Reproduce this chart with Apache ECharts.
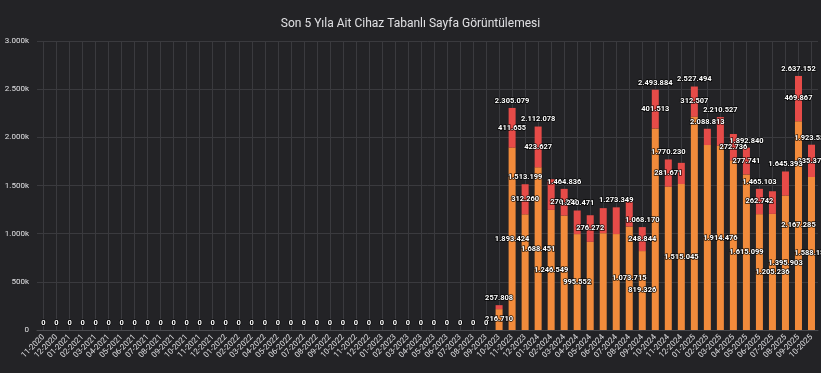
<!DOCTYPE html>
<html>
<head>
<meta charset="utf-8">
<script src="https://cdn.jsdelivr.net/npm/echarts@6/dist/echarts.min.js"></script>
<style>
  html, body { margin: 0; padding: 0; background: #232326; }
  #chart { width: 821px; height: 373px; }
</style>
</head>
<body>
<div id="chart"></div>
<script>
  var months = [
    '11-2020', '12-2020',
    '01-2021', '02-2021', '03-2021', '04-2021', '05-2021', '06-2021',
    '07-2021', '08-2021', '09-2021', '10-2021', '11-2021', '12-2021',
    '01-2022', '02-2022', '03-2022', '04-2022', '05-2022', '06-2022',
    '07-2022', '08-2022', '09-2022', '10-2022', '11-2022', '12-2022',
    '01-2023', '02-2023', '03-2023', '04-2023', '05-2023', '06-2023',
    '07-2023', '08-2023', '09-2023', '10-2023', '11-2023', '12-2023',
    '01-2024', '02-2024', '03-2024', '04-2024', '05-2024', '06-2024',
    '07-2024', '08-2024', '09-2024', '10-2024', '11-2024', '12-2024',
    '01-2025', '02-2025', '03-2025', '04-2025', '05-2025', '06-2025',
    '07-2025', '08-2025', '09-2025', '10-2025'
  ];

  // alt (turuncu) kisim
  var bottomValues = [
    0, 0, 0, 0, 0, 0, 0, 0, 0, 0, 0, 0, 0, 0, 0, 0, 0, 0, 0, 0,
    0, 0, 0, 0, 0, 0, 0, 0, 0, 0, 0, 0, 0, 0, 0,
    216710, 1893424, 1200939, 1688451, 1246549, 1187984, 995552, 915000,
    1005000, 996000, 1073715, 819326, 2092371, 1488559, 1515045, 2214987,
    1920000, 1914476, 1762000, 1615099, 1202361, 1205236, 1395903, 2167285,
    1588157
  ];

  // ust (kirmizi) kisim
  var topValues = [
    0, 0, 0, 0, 0, 0, 0, 0, 0, 0, 0, 0, 0, 0, 0, 0, 0, 0, 0, 0,
    0, 0, 0, 0, 0, 0, 0, 0, 0, 0, 0, 0, 0, 0, 0,
    41098, 411655, 312260, 423627, 318000, 276852, 244919, 276272,
    260000, 277349, 258000, 248844, 401513, 281671, 220000, 312507,
    168813, 296051, 272736, 277741, 262742, 235000, 249490, 469867,
    335374
  ];

  // ust uste binip gizlenen etiketler
  var hideTotal = ['02-2024', '05-2024', '06-2024', '08-2024', '12-2024', '04-2025', '07-2025'];
  var hideTop = ['10-2023', '02-2024', '04-2024', '06-2024', '07-2024', '08-2024', '12-2024',
    '02-2025', '03-2025', '07-2025', '08-2025'];
  var hideBottom = ['12-2023', '03-2024', '05-2024', '06-2024', '07-2024', '10-2024', '11-2024',
    '01-2025', '02-2025', '04-2025', '06-2025'];

  var totals = bottomValues.map(function (v, i) { return v + topValues[i]; });
  var totalHolder = totals.map(function () { return 0; });

  function dotted(n) {
    return String(Math.round(n)).replace(/\B(?=(\d{3})+(?!\d))/g, '.');
  }
  function axisFmt(v) {
    if (v === 0) return '0';
    return dotted(v / 1000) + 'k';
  }
  function segLabel(hidden) {
    return function (p) {
      if (!p.value || hidden.indexOf(months[p.dataIndex]) > -1) return '';
      return dotted(p.value);
    };
  }

  var fontFam = "Roboto, 'Noto Sans', sans-serif";
  var labelStyle = {
    show: true,
    color: '#ffffff',
    fontSize: 7.5,
    fontWeight: 'bold',
    fontFamily: fontFam,
    textBorderColor: 'rgba(0,0,0,0.85)',
    textBorderWidth: 1.5
  };

  var chart = echarts.init(document.getElementById('chart'));
  chart.setOption({
    backgroundColor: '#232326',
    animation: false,
    title: {
      text: 'Son 5 Yıla Ait Cihaz Tabanlı Sayfa Görüntülemesi',
      left: 'center',
      top: 13,
      textStyle: { color: '#e0e0e3', fontSize: 12, fontWeight: 'normal', fontFamily: fontFam }
    },
    grid: { left: 37, right: 3, top: 41, bottom: 43 },
    xAxis: {
      type: 'category',
      data: months,
      axisLine: { lineStyle: { color: '#4a4a4e' } },
      axisTick: { show: false },
      axisLabel: { rotate: 45, interval: 0, fontSize: 8, color: '#e0e0e3', margin: 6, fontFamily: fontFam },
      splitLine: { show: true, alignWithLabel: true, lineStyle: { color: '#3a3a3e' } }
    },
    yAxis: {
      type: 'value',
      min: 0,
      max: 3000000,
      interval: 500000,
      axisLabel: { formatter: axisFmt, fontSize: 8, color: '#e0e0e3', margin: 8, fontFamily: fontFam },
      splitLine: { lineStyle: { color: '#3a3a3e' } }
    },
    series: [
      {
        type: 'bar', stack: 'views', data: bottomValues, barWidth: 7,
        itemStyle: { color: '#f28b3b' },
        label: Object.assign({}, labelStyle, { position: 'inside', formatter: segLabel(hideBottom) })
      },
      {
        type: 'bar', stack: 'views', data: topValues, barWidth: 7,
        itemStyle: { color: '#e64b48' },
        label: Object.assign({}, labelStyle, { position: 'inside', formatter: segLabel(hideTop) })
      },
      {
        type: 'bar', stack: 'views', data: totalHolder, barWidth: 7,
        itemStyle: { color: 'transparent' },
        label: Object.assign({}, labelStyle, {
          position: 'top',
          distance: 3,
          formatter: function (p) {
            if (hideTotal.indexOf(months[p.dataIndex]) > -1) return '';
            return dotted(totals[p.dataIndex]);
          }
        })
      }
    ]
  });
</script>
</body>
</html>
